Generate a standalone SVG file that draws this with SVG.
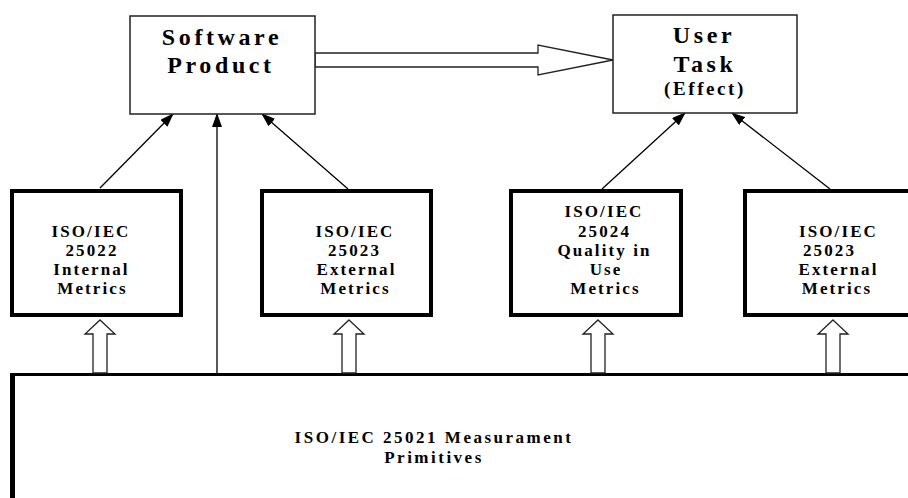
<svg xmlns="http://www.w3.org/2000/svg" width="908" height="498" viewBox="0 0 908 498">
<defs>
<marker id="ah" markerWidth="14" markerHeight="10" refX="13" refY="5" orient="auto" markerUnits="userSpaceOnUse">
<path d="M0,0 L14,5 L0,10 Z" fill="#000"/>
</marker>
<style>
text{font-family:'Liberation Serif','Times New Roman',serif;font-weight:700;fill:#000;text-anchor:middle}
.big{font-size:24px;letter-spacing:3.6px}
.mid{font-size:19px;letter-spacing:2.6px}
.sm{font-size:17px;letter-spacing:2.1px}
.bt{font-size:17px;letter-spacing:2.5px}
.thin{fill:#fff;stroke:#222;stroke-width:1.5}
.thick{fill:#fff;stroke:#000;stroke-width:4}
.hollow{fill:#fff;stroke:#222;stroke-width:1.3}
.conn{stroke:#000;stroke-width:1.3;fill:none;marker-end:url(#ah)}
</style>
</defs>
<rect width="908" height="498" fill="#fff"/>

<g id="primitives">
<path d="M10,374.5 H908" stroke="#000" stroke-width="3" fill="none"/>
<path d="M12.5,373 V498" stroke="#000" stroke-width="5" fill="none"/>
<text class="bt" x="434" y="443">ISO/IEC 25021 Measurament</text>
<text class="bt" x="434" y="463">Primitives</text>
</g>

<g id="connectors">
<polygon class="hollow" points="315,53 538,53 538,45 613,60 538,75 538,67 315,67"/>
<line class="conn" x1="100" y1="188" x2="173" y2="114"/>
<line class="conn" x1="217" y1="374" x2="217" y2="114"/>
<line class="conn" x1="348" y1="189" x2="262" y2="114"/>
<line class="conn" x1="602" y1="189" x2="685" y2="113"/>
<line class="conn" x1="830" y1="189" x2="732" y2="113"/>
<polygon class="hollow" points="100,320 115,334 107,334 107,373 93,373 93,334 85,334"/>
<polygon class="hollow" points="349,320 364,334 356,334 356,373 342,373 342,334 334,334"/>
<polygon class="hollow" points="598,320 613,334 605,334 605,373 591,373 591,334 583,334"/>
<polygon class="hollow" points="833,320 848,334 840,334 840,373 826,373 826,334 818,334"/>
</g>

<g id="software-product">
<rect class="thin" x="130" y="16" width="185" height="98"/>
<text class="big" x="222" y="45">Software</text>
<text class="big" x="221" y="73">Product</text>
</g>

<g id="user-task">
<rect class="thin" x="613" y="15" width="184" height="98"/>
<text class="big" x="704" y="43">User</text>
<text class="big" x="705" y="72">Task</text>
<text class="mid" x="705" y="95">(Effect)</text>
</g>

<g id="internal-metrics">
<rect class="thick" x="12" y="191" width="169" height="124"/>
<text class="sm" x="91" y="237">ISO/IEC</text>
<text class="sm" x="92" y="256">25022</text>
<text class="sm" x="91.5" y="275">Internal</text>
<text class="sm" x="92.5" y="294">Metrics</text>
</g>

<g id="external-metrics-1">
<rect class="thick" x="262" y="191" width="169" height="124"/>
<text class="sm" x="355" y="237">ISO/IEC</text>
<text class="sm" x="354.5" y="256">25023</text>
<text class="sm" x="356.5" y="275">External</text>
<text class="sm" x="355.5" y="294">Metrics</text>
</g>

<g id="quality-in-use-metrics">
<rect class="thick" x="511" y="191" width="170" height="124"/>
<text class="sm" x="604" y="217">ISO/IEC</text>
<text class="sm" x="604.5" y="237">25024</text>
<text class="sm" x="604.5" y="256">Quality in</text>
<text class="sm" x="606" y="275">Use</text>
<text class="sm" x="605.5" y="294">Metrics</text>
</g>

<g id="external-metrics-2">
<rect class="thick" x="745" y="191" width="200" height="124"/>
<text class="sm" x="838.5" y="237">ISO/IEC</text>
<text class="sm" x="829.5" y="256">25023</text>
<text class="sm" x="838.5" y="275">External</text>
<text class="sm" x="837" y="294">Metrics</text>
</g>
</svg>
